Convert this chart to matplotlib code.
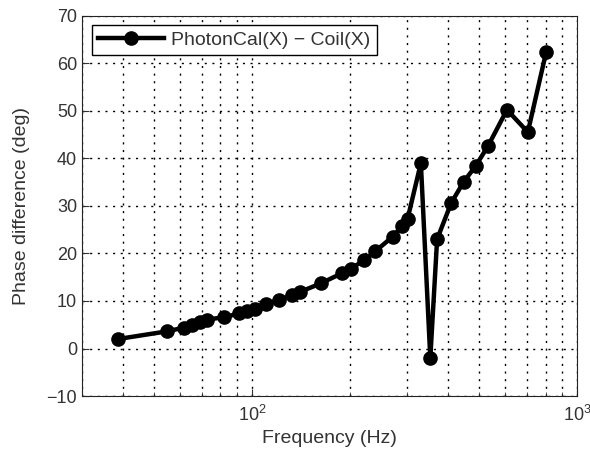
import matplotlib
matplotlib.use("Agg")
import matplotlib.pyplot as plt
from matplotlib.ticker import LogLocator, NullFormatter

plt.rcParams['font.family'] = ['Liberation Sans', 'DejaVu Sans']

# frequency (Hz) and phase difference (deg)
freq = [38.7, 54.6, 61.8, 65.5, 69.1, 72.9, 82.3, 91.5, 96.6, 101.9,
        110.4, 121.3, 133.2, 140.5, 162.8, 188.6, 201.8, 221.5, 239.9,
        270.8, 289.6, 301.2, 330.8, 353.7, 371.2, 410.1, 447.5, 487.9,
        532.5, 608.9, 705.8, 803.3]
phase = [2.0, 3.6, 4.4, 5.0, 5.6, 6.1, 6.6, 7.4, 8.0, 8.4,
         9.3, 10.3, 11.2, 11.9, 13.7, 15.8, 16.8, 18.6, 20.5,
         23.5, 25.8, 27.3, 39.0, -2.0, 23.0, 30.6, 35.0, 38.4,
         42.6, 50.2, 45.5, 62.3]

fig = plt.figure(figsize=(5.9, 4.59), dpi=100)
ax = fig.add_axes([0.139, 0.137, 0.839, 0.829])

ax.semilogx(freq, phase, '-o', color='black', linewidth=3.2,
            markersize=9.5, markerfacecolor='black',
            label='PhotonCal(X) \u2212 Coil(X)')

ax.set_xlim(30, 1000)
ax.set_ylim(-10, 70)
ax.set_yticks(range(-10, 71, 10))
ax.xaxis.set_minor_locator(LogLocator(base=10, subs=range(2, 10)))
ax.xaxis.set_minor_formatter(NullFormatter())

# matlab style dotted grid
dots = (0, (1.5, 4))
ax.grid(True, which='major', linestyle=dots, color='black', linewidth=1)
ax.grid(True, which='minor', axis='x', linestyle=dots, color='black', linewidth=1)

ax.tick_params(which='both', direction='in', labelsize=13, colors='#333333')
ax.tick_params(which='major', length=5)
ax.tick_params(which='minor', length=3)
ax.tick_params(axis='x', pad=6)
for s in ax.spines.values():
    s.set_color('#222222')

ax.set_xlabel('Frequency (Hz)', fontsize=14, color='#333333', labelpad=4)
ax.set_ylabel('Phase difference (deg)', fontsize=14, color='#333333', labelpad=12)

leg = ax.legend(loc='upper left', fontsize=14, handlelength=3.4,
                fancybox=False, framealpha=1, borderaxespad=0.5,
                borderpad=0.3, handletextpad=0.4)
leg.get_frame().set_edgecolor('black')
leg.get_frame().set_linewidth(1)
for t in leg.get_texts():
    t.set_color('#333333')

fig.savefig('out.png', dpi=100)
